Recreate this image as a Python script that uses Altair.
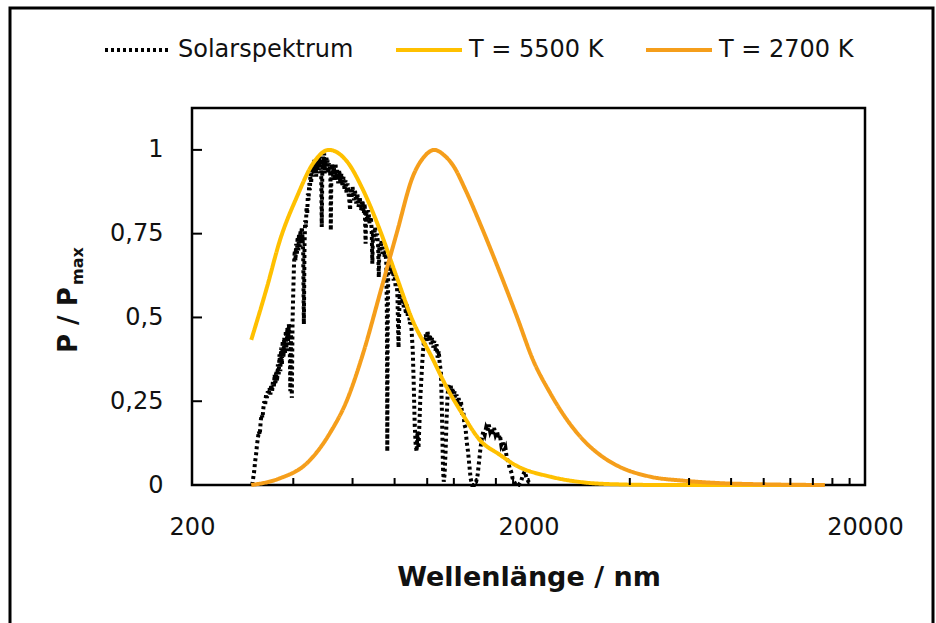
import altair as alt
import pandas as pd

# ---------------- data ----------------
SOLAR_NM = [302, 304, 306, 308, 310, 312, 314, 316, 318, 320, 322, 324, 326, 328, 330, 332, 334, 336, 338, 340,
            342, 344, 346, 348, 350, 352, 354, 356, 358, 360, 362, 364, 366, 368, 370, 372, 374, 376, 378, 380,
            382, 384, 386, 388, 390, 392, 394, 396, 398, 400, 402, 404, 406, 408, 410, 412, 414, 416, 418, 420,
            422, 424, 426, 428, 430, 432, 434, 436, 438, 440, 442, 444, 446, 448, 450, 452, 454, 456, 458, 460,
            462, 464, 466, 468, 470, 472, 474, 476, 478, 480, 482, 484, 486, 488, 490, 492, 494, 496, 498, 500,
            502, 504, 506, 508, 510, 512, 514, 516, 517, 519, 522, 525, 528, 531, 534, 537, 540, 544, 548, 552,
            556, 560, 564, 568, 572, 576, 580, 584, 588, 590, 592, 596, 600, 605, 610, 615, 620, 625, 630, 636,
            642, 648, 652, 656, 659, 664, 669, 674, 680, 684, 687, 690, 695, 700, 705, 710, 715, 718, 721, 726,
            731, 736, 741, 746, 751, 756, 759, 761, 763, 766, 770, 775, 780, 785, 790, 795, 800, 806, 812, 816,
            820, 822, 824, 828, 834, 840, 846, 852, 858, 864, 870, 876, 882, 888, 894, 900, 906, 912, 918, 924,
            930, 936, 942, 948, 954, 960, 966, 972, 978, 984, 990, 996, 1002, 1010, 1018, 1026, 1034, 1042, 1050, 1058,
            1066, 1074, 1082, 1090, 1098, 1106, 1114, 1120, 1126, 1134, 1142, 1150, 1158, 1166, 1174, 1182, 1190, 1198,
            1206, 1214, 1222, 1230, 1240, 1250, 1260, 1270, 1280, 1290, 1300, 1310, 1322, 1334, 1346, 1360, 1380, 1398,
            1412, 1426, 1440, 1454, 1468, 1482, 1496, 1510, 1524, 1538, 1552, 1566, 1580, 1596, 1612, 1628, 1644, 1660,
            1676, 1692, 1708, 1724, 1740, 1758, 1776, 1794, 1812, 1836, 1870, 1900, 1925, 1950, 1975, 2000, 2030]
SOLAR_P = [0.00, 0.02, 0.04, 0.07, 0.09, 0.12, 0.14, 0.16, 0.15, 0.19, 0.21, 0.20, 0.23, 0.25, 0.24, 0.27, 0.26, 0.28, 0.27, 0.29,
           0.27, 0.30, 0.28, 0.31, 0.29, 0.33, 0.30, 0.34, 0.31, 0.36, 0.33, 0.39, 0.34, 0.41, 0.36, 0.43, 0.38, 0.44, 0.39, 0.46,
           0.40, 0.47, 0.43, 0.48, 0.44, 0.28, 0.45, 0.26, 0.49, 0.58, 0.66, 0.70, 0.67, 0.72, 0.69, 0.74, 0.70, 0.75, 0.71, 0.76,
           0.73, 0.77, 0.74, 0.70, 0.48, 0.72, 0.79, 0.77, 0.83, 0.81, 0.87, 0.85, 0.90, 0.88, 0.93, 0.90, 0.95, 0.92, 0.96, 0.93,
           0.97, 0.94, 0.96, 0.92, 0.96, 0.93, 0.97, 0.94, 0.98, 0.95, 0.97, 0.94, 0.77, 0.95, 0.98, 0.95, 0.99, 0.93, 0.97, 0.94,
           0.98, 0.95, 0.97, 0.93, 0.96, 0.94, 0.95, 0.90, 0.76, 0.93, 0.96, 0.92, 0.95, 0.91, 0.96, 0.92, 0.94, 0.90, 0.94, 0.90,
           0.93, 0.89, 0.92, 0.88, 0.91, 0.87, 0.90, 0.87, 0.84, 0.82, 0.88, 0.86, 0.89, 0.85, 0.88, 0.84, 0.87, 0.83, 0.86, 0.82,
           0.85, 0.81, 0.84, 0.72, 0.82, 0.79, 0.82, 0.78, 0.80, 0.76, 0.66, 0.76, 0.74, 0.77, 0.73, 0.75, 0.71, 0.62, 0.72, 0.70,
           0.73, 0.69, 0.71, 0.68, 0.70, 0.66, 0.50, 0.10, 0.45, 0.64, 0.67, 0.64, 0.66, 0.63, 0.65, 0.61, 0.63, 0.59, 0.60, 0.56,
           0.45, 0.41, 0.48, 0.56, 0.58, 0.54, 0.56, 0.53, 0.55, 0.51, 0.54, 0.50, 0.52, 0.48, 0.50, 0.45, 0.40, 0.30, 0.18, 0.12,
           0.10, 0.16, 0.11, 0.18, 0.26, 0.31, 0.36, 0.40, 0.43, 0.41, 0.45, 0.43, 0.46, 0.43, 0.45, 0.42, 0.44, 0.41, 0.43, 0.40,
           0.42, 0.38, 0.40, 0.36, 0.34, 0.22, 0.05, 0.01, 0.03, 0.10, 0.20, 0.27, 0.30, 0.28, 0.30, 0.27, 0.29, 0.26,
           0.28, 0.25, 0.27, 0.24, 0.26, 0.23, 0.25, 0.21, 0.22, 0.18, 0.17, 0.13, 0.10, 0.06, 0.02, 0.00, 0.00, 0.01,
           0.03, 0.07, 0.11, 0.14, 0.16, 0.15, 0.17, 0.16, 0.18, 0.16, 0.17, 0.15, 0.17, 0.15, 0.16, 0.14, 0.15, 0.12,
           0.13, 0.10, 0.11, 0.08, 0.07, 0.05, 0.04, 0.02, 0.01, 0.00, 0.00, 0.01, 0.03, 0.04, 0.02, 0.01, 0.00]

T5500_NM = [300, 334, 365, 410, 458, 511, 578, 645, 724, 812, 906, 1022, 1145, 1276, 1434, 1645, 1823,
            2318, 2905, 3660, 5000, 8000, 15000]
T5500_P = [0.433, 0.59, 0.73, 0.86, 0.96, 1.0, 0.965, 0.88, 0.76, 0.62, 0.49, 0.39, 0.29, 0.21, 0.134, 0.09, 0.06,
           0.025, 0.008, 0.002, 0.0, 0.0, 0.0]

T2700_NM = [300, 365, 439, 514, 578, 645, 724, 812, 906, 980, 1050, 1120, 1200, 1300, 1450, 1646, 1848, 2063,
            2318, 2605, 2905, 3260, 3667, 4592, 5760, 7260, 10000, 15200]
T2700_P = [0.0, 0.02, 0.065, 0.155, 0.254, 0.393, 0.572, 0.752, 0.92, 0.98, 1.0, 0.985, 0.95, 0.88, 0.77, 0.633,
           0.502, 0.373, 0.275, 0.194, 0.135, 0.090, 0.058, 0.025, 0.013, 0.006, 0.002, 0.0]

SERIES = ["Solarspektrum", "T = 5500 K", "T = 2700 K"]
COLORS = ["#000000", "#FFC000", "#F59E1B"]
DASHES = [[3, 3], [1, 0], [1, 0]]

Y_TICKS = [0, 0.25, 0.5, 0.75, 1]
X_LABELS = [200, 2000, 20000]
X_MINOR = [400, 600, 800, 1000, 1200, 1400, 1600, 1800, 2000,
           4000, 6000, 8000, 10000, 12000, 14000, 16000, 18000]

# ---------------- layout ----------------
W, H = 673, 377
FONT = "DejaVu Sans"
TXT = "#111111"

solar = pd.DataFrame({"nm": SOLAR_NM, "p": SOLAR_P, "series": SERIES[0]})
curves = pd.concat([
    pd.DataFrame({"nm": T5500_NM, "p": T5500_P, "series": SERIES[1]}),
    pd.DataFrame({"nm": T2700_NM, "p": T2700_P, "series": SERIES[2]}),
], ignore_index=True)

xscale = alt.Scale(type="log", domain=[200, 20000], nice=False)
yscale = alt.Scale(domain=[0, 1.125], nice=False, zero=False)

X_AXIS = alt.Axis(values=X_LABELS, format="d", ticks=False, grid=False, domain=False,
                  labelPadding=30, labelFontSize=24, labelFont=FONT, labelColor=TXT,
                  labelFlush=False, labelOverlap=False,
                  title="Wellenlänge / nm", titleFont=FONT, titleFontSize=27,
                  titleFontWeight="bold", titleColor=TXT, titleY=100, titleBaseline="alphabetic")
Y_AXIS = alt.Axis(values=Y_TICKS, labelExpr="replace(format(datum.value, '.2~f'), '.', ',')",
                  ticks=False, grid=False, domain=False, labelPadding=29, labelFontSize=24,
                  labelFont=FONT, labelColor=TXT, labelFlush=False, labelOverlap=False, title="")


def xenc():
    return alt.X("nm:Q", scale=xscale, axis=X_AXIS)


def yenc():
    return alt.Y("p:Q", scale=yscale, axis=Y_AXIS)


LEGEND = alt.Legend(orient="none", legendX=-89, legendY=-93, direction="horizontal", title=None,
                    symbolType="stroke", symbolSize=4356, symbolStrokeWidth=4,
                    labelFont=FONT, labelFontSize=24, labelColor=TXT, labelOffset=5,
                    labelLimit=400, columnPadding=34, padding=0)

color = alt.Color("series:N", scale=alt.Scale(domain=SERIES, range=COLORS), legend=LEGEND)
dash = alt.StrokeDash("series:N", scale=alt.Scale(domain=SERIES, range=DASHES), legend=LEGEND)

one = pd.DataFrame({"k": [0]})

outer = alt.Chart(one).mark_rect(fillOpacity=0, stroke="#000000", strokeWidth=3).encode(
    x=alt.value(-182), x2=alt.value(741), y=alt.value(-100), y2=alt.value(540))

yticks = alt.Chart(pd.DataFrame({"p": Y_TICKS})).mark_rule(color="#000000", strokeWidth=2).encode(
    y=yenc(), x=alt.value(0), x2=alt.value(10))

xticks = alt.Chart(pd.DataFrame({"nm": X_MINOR})).mark_rule(color="#000000", strokeWidth=2).encode(
    x=xenc(), y=alt.value(H), y2=alt.value(H - 7))

solar_line = alt.Chart(solar).mark_line(strokeWidth=4, interpolate="linear").encode(
    x=xenc(), y=yenc(), color=color, strokeDash=dash)

curve_lines = alt.Chart(curves).mark_line(strokeWidth=4, interpolate="monotone").encode(
    x=xenc(), y=yenc(), color=color, strokeDash=dash, order=alt.Order("nm:Q"))

ytitle_main = alt.Chart(one).mark_text(text="P / P", angle=270, align="left", baseline="alphabetic",
                                       font=FONT, fontSize=26, fontWeight="bold", color=TXT).encode(
    x=alt.value(-115), y=alt.value(245))
ytitle_sub = alt.Chart(one).mark_text(text="max", angle=270, align="left", baseline="alphabetic",
                                      font=FONT, fontSize=16, fontWeight="bold", color=TXT).encode(
    x=alt.value(-109), y=alt.value(177))

chart = alt.layer(outer, solar_line, curve_lines, yticks, xticks, ytitle_main, ytitle_sub).properties(
    width=W, height=H,
    padding={"left": 192, "top": 108, "right": 71, "bottom": 138},
    autosize=alt.AutoSizeParams(type="none"),
    background="white",
).configure_view(stroke="#000000", strokeWidth=2.5)

chart.save("out.html", embed_options={"renderer": "svg", "actions": False})
